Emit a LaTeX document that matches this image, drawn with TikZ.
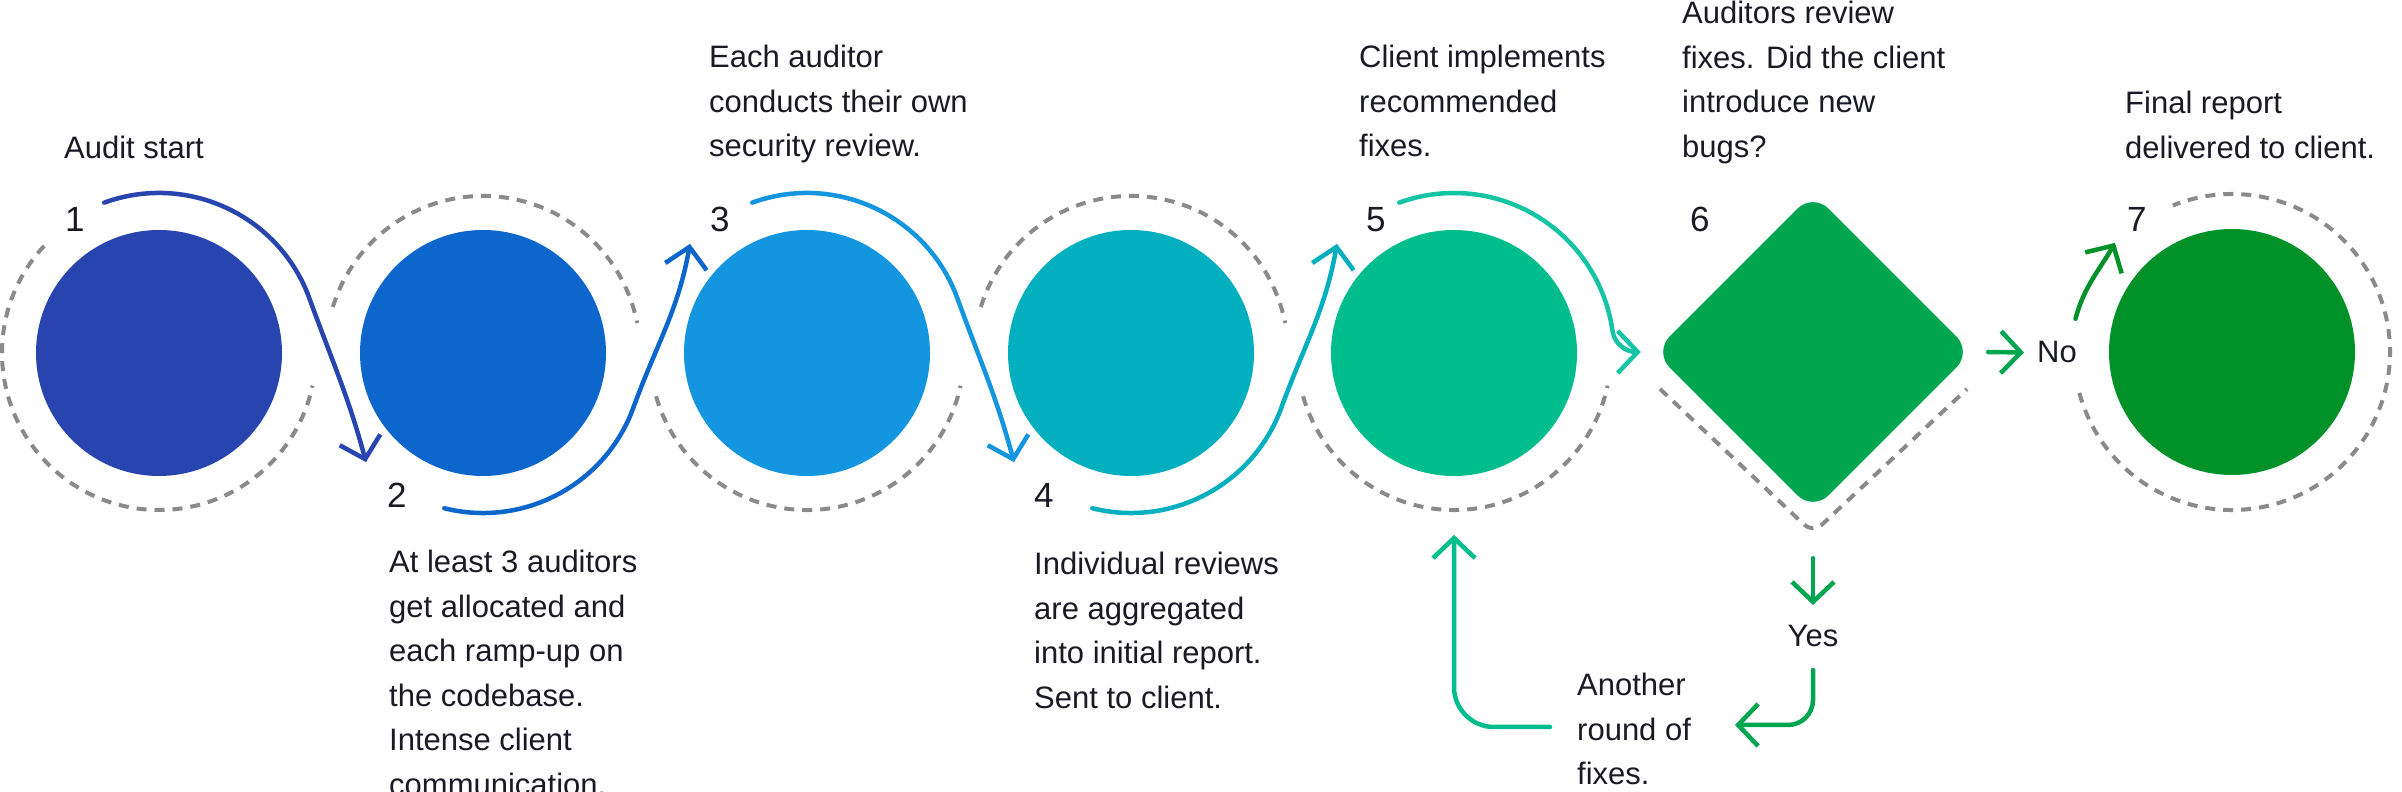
\documentclass[tikz,border=0pt]{standalone}
\usepackage{fontspec}
\setmainfont{Liberation Sans}
\usetikzlibrary{arrows.meta,calc,shapes.geometric}
\definecolor{ink}{HTML}{1A1A24}
\definecolor{ringgrey}{HTML}{8A8A8A}
\definecolor{cA}{HTML}{2845AF}
\definecolor{cB}{HTML}{0D66CC}
\definecolor{cC}{HTML}{1395DF}
\definecolor{cD}{HTML}{02AFBE}
\definecolor{cE}{HTML}{00BD8D}
\definecolor{cEl}{HTML}{14C4A4}
\definecolor{cF}{HTML}{00A550}
\definecolor{cG}{HTML}{009228}
\tikzset{
  stage/.style={circle, minimum size=246pt, inner sep=0pt},
  ring/.style={ringgrey, line width=4pt, dash pattern=on 10pt off 8pt},
  flow/.style={line width=4.5pt, line cap=round, line join=round,
    -{Straight Barb[length=20pt, width=42pt, line width=4.5pt]}},
  num/.style={ink, anchor=base west, inner sep=0pt, font=\fontsize{35}{40}\selectfont},
  txt/.style={ink, anchor=base west, inner sep=0pt, align=left, font=\fontsize{31}{44.5}\selectfont},
  para/.style={txt, anchor=north west}
}

\begin{document}
\begin{tikzpicture}[x=1pt, y=1pt]
\useasboundingbox (0,0) rectangle (2402,792);
% Steps
    \node[stage, fill=cA] (c1) at (159,439) {};
    \node[stage, fill=cB] (c2) at (483,439) {};
    \node[stage, fill=cC] (c3) at (807,439) {};
    \node[stage, fill=cD] (c4) at (1131,439) {};
    \node[stage, fill=cE] (c5) at (1454,439) {};
    \node[diamond, fill=cF, minimum size=318pt, inner sep=0pt, rounded corners=22pt] (d) at (1813,440) {};
    \node[stage, fill=cG] (c7) at (2232,440) {};
% Dashed rings
    \draw[ring] ([shift={(137:157)}]c1.center) arc[start angle=137, end angle=348, radius=157];
    \draw[ring] ([shift={(163:157)}]c2.center) arc[start angle=163, end angle=11, radius=157];
    \draw[ring] ([shift={(196:157)}]c3.center) arc[start angle=196, end angle=348, radius=157];
    \draw[ring] ([shift={(163:157)}]c4.center) arc[start angle=163, end angle=11, radius=157];
    \draw[ring] ([shift={(196:157)}]c5.center) arc[start angle=196, end angle=348, radius=157];
    \draw[ring, rounded corners=12pt] ($(d)+(-153,-37)$) -- ($(d)+(0,-181)$) -- ($(d)+(154,-37)$);
    \draw[ring] ([shift={(-165:158)}]c7.center) arc[start angle=-165, end angle=112, radius=158];
% Numbers
    \node[num] (n1) at (65,560) {1};
    \node[num] (n2) at (387,284) {2};
    \node[num] (n3) at (710,560) {3};
    \node[num] (n4) at (1034,284) {4};
    \node[num] (n5) at (1366,560) {5};
    \node[num] (n6) at (1690,560) {6};
    \node[num] (n7) at (2127,560) {7};
% Texts
    \node[txt] (t1) at (64,633) {Audit start};
    \node[para] (t2) at (389,242) {At least 3 auditors\\get allocated and\\each ramp-up on\\the codebase.\\Intense client\\communication.};
    \node[para] (t3) at (709,747) {Each auditor\\conducts their own\\security review.};
    \node[para] (t4) at (1034,240) {Individual reviews\\are aggregated\\into initial report.\\Sent to client.};
    \node[para] (t5) at (1359,747) {Client implements\\recommended\\fixes.};
    \node[para] (t6) at (1682,791) {Auditors review\\fixes. Did the client\\introduce new\\bugs?};
    \node[para] (t7) at (2125,701) {Final report\\delivered to client.};
    \node[txt] (no) at (2037,429) {No};
    \node[txt, anchor=center] (yes) at (1813,156) {Yes};
    \node[para] (another) at (1577,119) {Another\\round of\\fixes.};
    \coordinate (fixtip) at (1735,67);
    \coordinate (fixtail) at (1550,65);
% Flow
    \draw[flow, cA] ([shift={(110:160)}]c1.center) arc[start angle=110, end angle=20, radius=160]
        to[out=-70, in=105] ([shift={(223:160)}]c2.center);
    \draw[flow, cB] ([shift={(256:160)}]c2.center) arc[start angle=256, end angle=340, radius=160]
        to[out=70, in=-100] ([shift={(137:160)}]c3.center);
    \draw[flow, cC] ([shift={(110:160)}]c3.center) arc[start angle=110, end angle=20, radius=160]
        to[out=-70, in=105] ([shift={(223:160)}]c4.center);
    \draw[flow, cD] ([shift={(256:160)}]c4.center) arc[start angle=256, end angle=340, radius=160]
        to[out=70, in=-100] ([shift={(137:160)}]c5.center);
    \draw[flow, cEl] ([shift={(110:160)}]c5.center) arc[start angle=110, end angle=8, radius=160]
        to[out=-82, in=180] ([xshift=-13pt]d.west);
    \draw[flow, cF] ([xshift=16pt]d.east) -- ([xshift=-13pt]no.west);
    \draw[flow, cG] ([shift={(168:160)}]c7.center) to[out=75, in=-120] ([shift={(137:160)}]c7.center);
    \draw[flow, cF] ([yshift=-47pt]d.south) -- ($(yes)+(0,31)$);
    \draw[flow, cF, rounded corners=25pt] ($(yes)+(0,-34)$) |- (fixtip);
    \draw[flow, cE, rounded corners=40pt] (fixtail) -| ([yshift=-182pt]c5.center);
\end{tikzpicture}
\end{document}
